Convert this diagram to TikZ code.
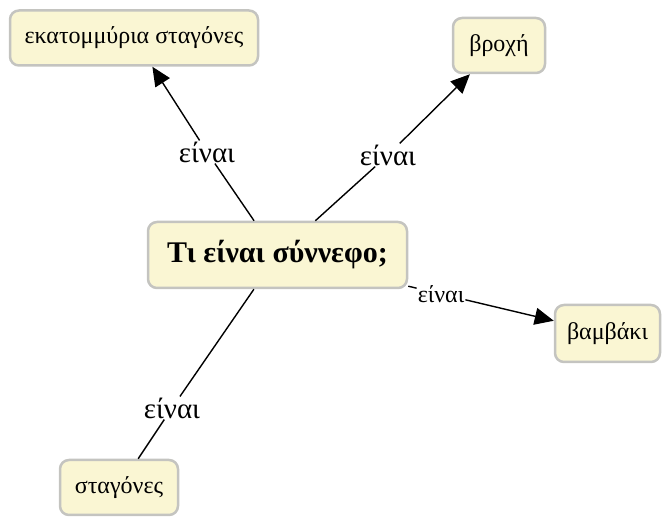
\documentclass[tikz,border=0pt]{standalone}
\usepackage{fontspec}
\setmainfont{Liberation Serif}
\usetikzlibrary{arrows.meta}
\definecolor{boxfill}{HTML}{FAF6D3}
\definecolor{boxline}{HTML}{C4C4C0}
\tikzset{
  concept/.style={draw=boxline, fill=boxfill, line width=2.5pt, rounded corners=9pt, align=center, font=\fontsize{24}{26}\selectfont, inner sep=0pt},
  linklabel/.style={inner sep=1pt, font=\fontsize{29}{30}\selectfont},
  smalllabel/.style={inner sep=1pt, font=\fontsize{24}{26}\selectfont},
  conn/.style={line width=1.4pt, black},
  arr/.style={conn, -{Triangle[length=19pt, width=17pt]}}
}
\begin{document}
\begin{tikzpicture}[x=1pt, y=-1pt]
\useasboundingbox (0,0) rectangle (662,518);
\node[concept, minimum width=248pt, minimum height=55pt] (e1) at (134,38) {εκατομμύρια σταγόνες};
\node[concept, minimum width=92pt, minimum height=55pt] (b) at (499,45.5) {βροχή};
\node[concept, minimum width=259pt, minimum height=66pt, font=\fontsize{30}{32}\selectfont\bfseries] (c) at (277.5,255) {Τι είναι σύννεφο;};
\node[concept, minimum width=105pt, minimum height=57pt] (v) at (607.5,333.5) {βαμβάκι};
\node[concept, minimum width=118pt, minimum height=55pt] (s) at (119,487.5) {σταγόνες};
\node[linklabel] (l1) at (207,152) {είναι};
\node[linklabel] (l2) at (388,155) {είναι};
\node[smalllabel] (l3) at (441,294) {είναι};
\node[linklabel] (l4) at (172,408) {είναι};
\draw[conn] (c) -- (l1);
\draw[arr] (l1) -- (e1);
\draw[conn] (c) -- (l2);
\draw[arr] (l2) -- (b);
\draw[conn] (c) -- (l3);
\draw[arr] (l3) -- (v);
\draw[conn] (c) -- (l4);
\draw[conn] (l4) -- (s);
\end{tikzpicture}
\end{document}
